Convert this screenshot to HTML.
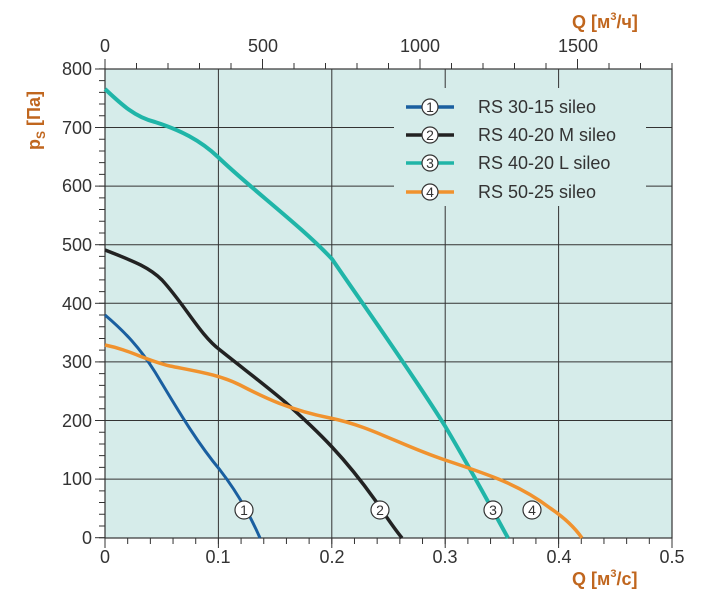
<!DOCTYPE html><html><head><style>body{margin:0;background:#fff}svg{display:block}text{font-family:"Liberation Sans",sans-serif}</style></head><body>
<svg width="716" height="608" xmlns="http://www.w3.org/2000/svg">
<rect x="105" y="69" width="567" height="469" fill="#d6ecea"/>
<g stroke="#333" stroke-width="1">
<line x1="218.4" y1="69" x2="218.4" y2="538"/><line x1="331.8" y1="69" x2="331.8" y2="538"/><line x1="445.2" y1="69" x2="445.2" y2="538"/><line x1="558.6" y1="69" x2="558.6" y2="538"/>
<line x1="105" y1="479.1" x2="672" y2="479.1"/><line x1="105" y1="420.5" x2="672" y2="420.5"/><line x1="105" y1="361.9" x2="672" y2="361.9"/><line x1="105" y1="303.3" x2="672" y2="303.3"/><line x1="105" y1="244.7" x2="672" y2="244.7"/><line x1="105" y1="186.1" x2="672" y2="186.1"/><line x1="105" y1="127.5" x2="672" y2="127.5"/>
</g>
<rect x="394" y="88" width="252" height="118" fill="#d6ecea"/>
<rect x="105" y="69" width="567" height="469" fill="none" stroke="#333" stroke-width="1.2"/>
<g stroke="#333" fill="none">
<line x1="104.5" y1="541" x2="673" y2="541" stroke-width="6" stroke-dasharray="1 21.68"/>
<line x1="104.5" y1="66" x2="673" y2="66" stroke-width="6" stroke-dasharray="1 30.5"/>
<line x1="102" y1="538.2" x2="102" y2="68" stroke-width="6" stroke-dasharray="1 10.72"/>
<g stroke-width="1">
<line x1="105" y1="538" x2="105" y2="548"/><line x1="218.4" y1="538" x2="218.4" y2="548"/><line x1="331.8" y1="538" x2="331.8" y2="548"/><line x1="445.2" y1="538" x2="445.2" y2="548"/><line x1="558.6" y1="538" x2="558.6" y2="548"/><line x1="672" y1="538" x2="672" y2="548"/>
<line x1="105" y1="69" x2="105" y2="59"/><line x1="262.5" y1="69" x2="262.5" y2="59"/><line x1="420" y1="69" x2="420" y2="59"/><line x1="577.5" y1="69" x2="577.5" y2="59"/>
<line x1="95" y1="537.7" x2="105" y2="537.7"/><line x1="95" y1="479.1" x2="105" y2="479.1"/><line x1="95" y1="420.5" x2="105" y2="420.5"/><line x1="95" y1="361.9" x2="105" y2="361.9"/><line x1="95" y1="303.3" x2="105" y2="303.3"/><line x1="95" y1="244.7" x2="105" y2="244.7"/><line x1="95" y1="186.1" x2="105" y2="186.1"/><line x1="95" y1="127.5" x2="105" y2="127.5"/><line x1="95" y1="69" x2="105" y2="69"/>
</g></g>
<g font-size="18" fill="#333" text-anchor="middle">
<text x="105" y="563">0</text><text x="218" y="563">0.1</text><text x="332" y="563">0.2</text><text x="445" y="563">0.3</text><text x="559" y="563">0.4</text><text x="672" y="563">0.5</text>
<text x="105" y="52">0</text><text x="263" y="52">500</text><text x="420" y="52">1000</text><text x="578" y="52">1500</text>
</g>
<g font-size="18" fill="#333" text-anchor="end">
<text x="92" y="544">0</text><text x="92" y="485">100</text><text x="92" y="427">200</text><text x="92" y="368">300</text><text x="92" y="310">400</text><text x="92" y="251">500</text><text x="92" y="192">600</text><text x="92" y="134">700</text><text x="92" y="75">800</text>
</g>
<g font-size="18" fill="#c0661e" font-weight="bold">
<text x="572" y="585">Q [м<tspan font-size="11" dy="-8">3</tspan><tspan dy="8">/с]</tspan></text>
<text x="572" y="28">Q [м<tspan font-size="11" dy="-8">3</tspan><tspan dy="8">/ч]</tspan></text>
<text transform="translate(40,150) rotate(-90)">p<tspan font-size="12" dy="5">S</tspan><tspan dy="-5"> [Па]</tspan></text>
</g>
<g fill="none" stroke-width="3.5" stroke-linecap="butt" stroke-linejoin="round">
<path stroke="#1a5fa0" stroke-width="3" d="M105,315 C125,332 140,348 155,372 C175,405 195,440 220,470 C237,492 250,515 260,538"/>
<path stroke="#222" d="M105,250 C130,260 148,266 162,280 C185,305 200,335 220,350 C245,370 265,385 285,402 C320,433 345,458 375,500 C385,515 393,527 402,538"/>
<path stroke="#20b5a8" stroke-width="4" d="M105,89 C122,105 135,117 155,122 C180,130 200,140 218,157 C250,188 300,225 332,259 C360,300 410,370 445,426 C470,468 490,505 508,538"/>
<path stroke="#f0922e" d="M105,345 C130,350 145,360 170,366 C200,372 220,375 240,385 C265,398 290,410 330,418 C370,426 400,445 445,460 C490,475 520,485 550,508 C565,518 575,528 582,538"/>
</g>
<g font-size="14" fill="#333" text-anchor="middle" stroke-width="1.2">
<circle cx="244" cy="510" r="9" fill="#fff" stroke="#333"/><text x="244" y="515">1</text>
<circle cx="380" cy="510" r="9" fill="#fff" stroke="#333"/><text x="380" y="515">2</text>
<circle cx="493" cy="510" r="9" fill="#fff" stroke="#333"/><text x="493" y="515">3</text>
<circle cx="532" cy="510" r="9" fill="#fff" stroke="#333"/><text x="532" y="515">4</text>
</g>
<g stroke-width="3.5">
<line x1="406" y1="107" x2="454" y2="107" stroke="#1a5fa0"/>
<line x1="406" y1="135" x2="454" y2="135" stroke="#222"/>
<line x1="406" y1="163" x2="454" y2="163" stroke="#20b5a8"/>
<line x1="406" y1="192" x2="454" y2="192" stroke="#f0922e"/>
</g>
<g font-size="14" fill="#333" text-anchor="middle" stroke-width="1.2">
<circle cx="430" cy="107" r="8" fill="#fff" stroke="#333"/><text x="430" y="112">1</text>
<circle cx="430" cy="135" r="8" fill="#fff" stroke="#333"/><text x="430" y="140">2</text>
<circle cx="430" cy="163" r="8" fill="#fff" stroke="#333"/><text x="430" y="168">3</text>
<circle cx="430" cy="192" r="8" fill="#fff" stroke="#333"/><text x="430" y="197">4</text>
</g>
<g font-size="18" fill="#333">
<text x="478" y="113">RS 30-15 sileo</text>
<text x="478" y="141">RS 40-20 M sileo</text>
<text x="478" y="169">RS 40-20 L sileo</text>
<text x="478" y="198">RS 50-25 sileo</text>
</g>
</svg></body></html>
